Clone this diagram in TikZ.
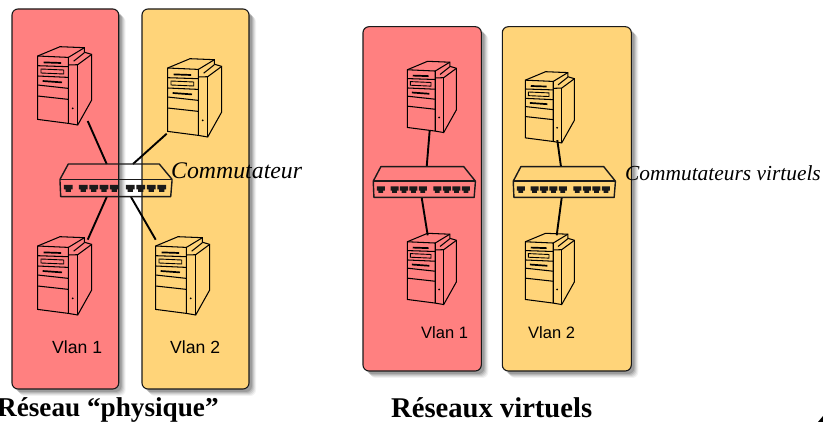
\documentclass[tikz,border=0pt]{standalone}
\usepackage{fontspec}
\setmainfont{Liberation Serif}
\setsansfont{Liberation Sans}
\usetikzlibrary{calc}
\definecolor{vred}{HTML}{FF8080}
\definecolor{vyel}{HTML}{FFD479}
\definecolor{ink}{HTML}{1A1A1A}
\tikzset{
  panelbox/.style={draw=ink,line width=1.1pt,rounded corners=6pt},
  holder/.style={rectangle,inner sep=0pt,outer sep=0pt},
  link/.style={draw=black,line width=1.9pt},
  srvline/.style={draw=black,line width=1.05pt,line join=miter},
  swline/.style={draw=ink,line width=1.4pt,line join=round},
  captxt/.style={inner sep=0pt,anchor=west},
  vlan/.style={inner sep=0pt,anchor=west},
  ttl/.style={inner sep=0pt,anchor=west},
}
\newcommand{\capfont}[1]{\fontsize{#1}{#1}\selectfont\itshape}
\newcommand{\vlanfont}[1]{\fontsize{#1}{#1}\selectfont\sffamily}
\newcommand{\ttlfont}[1]{\fontsize{#1}{#1}\selectfont\bfseries}
% panel with soft shadow: x1,y1,x2,y2,colour
\newcommand{\vpanel}[5]{%
  \foreach \d/\o in {7/0.05,6/0.07,5/0.09,4/0.11,3/0.14}{%
    \fill[black,opacity=\o,rounded corners=6pt] (#1+\d,#2+\d) rectangle (#3+\d,#4+\d);}
  \path[panelbox,fill=#5] (#1,#2) rectangle (#3,#4);}
% server drawn in a 54 x 78 box from its NW corner; args: node name, scale
\newcommand{\srv}[2]{%
 \begin{scope}[shift={(#1.north west)},x=#2pt,y=-#2pt]
  \draw[srvline] (0,9.3) -- (22.3,0) -- (46.7,1) -- (46.7,5.5) -- (54,7.7) -- (54,53.3) -- (40,78.3) -- (30.7,76.7) -- (0,72.7) -- cycle;
  \draw[srvline] (0,9.3) -- (30.7,10.7) -- (30.7,76.7);
  \draw[srvline] (30.7,10.7) -- (46.7,1);
  \draw[srvline] (30.7,18.3) -- (40,18) -- (54,7.7);
  \draw[srvline] (40,18) -- (40,78.3);
  \draw[srvline] (36,14.5) -- (46.7,6);
  \draw[srvline] (0,19) -- (30.7,20);
  \draw[srvline] (0,29.3) -- (30.7,30.7);
  \draw[srvline] (0,38.3) -- (30.7,41.7);
  \draw[srvline] (0,49.3) -- (30.7,52.7);
  \draw[line width=1.7pt] (6,15.7) -- (23.5,16.3);
  \draw[line width=1.7pt] (5,34.3) -- (24.3,35.7);
  \draw[black,line width=0.9pt] (3.3,22.3) -- (26,23.3) -- (26,27.3) -- (3.3,26.3) -- cycle;
  \fill (35,61.7) circle (1pt);
 \end{scope}}
% switch in a 112 x 33 box; args: node name, x-scale, y-scale
\newcommand{\swt}[3]{%
 \begin{scope}[shift={(#1.north west)},x=#2pt,y=-#3pt]
  \draw[swline] (8.3,0) -- (99.3,0) -- (112,15.3) -- (112,17) -- (110.7,32.7) -- (0.7,32.7) -- (0,17) -- (0,15.3) -- cycle;
  \draw[swline] (0,15.3) -- (112,15.3);
  \foreach \x in {8.3,23.3,33.7,44,54.3,70.3,80.7,91.3,101.7}{%
    \fill[ink] (\x-4.4,21) -- (\x+4.4,21) -- (\x+4.4,25.5) -- (\x+2.6,25.5) -- (\x+2.6,27.8) -- (\x-2.6,27.8) -- (\x-2.6,25.5) -- (\x-4.4,25.5) -- cycle;}
 \end{scope}}
\begin{document}
\begin{tikzpicture}[x=1pt,y=-1pt]
\useasboundingbox (0,0) rectangle (823,422);
\vpanel{12}{9}{118.7}{389}{vred}
\vpanel{142}{9}{249}{389}{vyel}
\vpanel{363}{26.7}{481.3}{371}{vred}
\vpanel{502.3}{26.7}{631.3}{371}{vyel}
% holders (anchor north west)
\node[holder,anchor=north west,minimum width=54pt,minimum height=78pt] (sA) at (37.7,46.7) {};
\node[holder,anchor=north west,minimum width=54pt,minimum height=78pt] (sB) at (167.7,58.7) {};
\node[holder,anchor=north west,minimum width=54pt,minimum height=78pt] (sC) at (37.7,236.7) {};
\node[holder,anchor=north west,minimum width=54pt,minimum height=78pt] (sD) at (155.7,236.7) {};
\node[holder,anchor=north west,minimum width=112pt,minimum height=33pt] (swP) at (60,164) {};
\node[holder,anchor=north west,minimum width=49pt,minimum height=71pt] (sE) at (407.3,61.3) {};
\node[holder,anchor=north west,minimum width=49pt,minimum height=71pt] (sF) at (525.3,71.7) {};
\node[holder,anchor=north west,minimum width=49pt,minimum height=71pt] (sG) at (407.3,233.3) {};
\node[holder,anchor=north west,minimum width=49pt,minimum height=71pt] (sH) at (525.3,233.3) {};
\node[holder,anchor=north west,minimum width=102pt,minimum height=31pt] (swR) at (373.3,166.7) {};
\node[holder,anchor=north west,minimum width=102pt,minimum height=31pt] (swY) at (513.3,166.7) {};
% connectors
\draw[link] ([xshift=50pt,yshift=3.7pt]sA.south west) -- ([xshift=46.7pt]swP.north west);
\draw[link] ([xshift=-1pt,yshift=3pt]sB.south west) -- ([xshift=73pt]swP.north west);
\draw[link] ([xshift=50pt,yshift=-3pt]sC.north west) -- ([xshift=46.7pt]swP.south west);
\draw[link] ([xshift=0pt,yshift=-3pt]sD.north west) -- ([xshift=71pt]swP.south west);
\draw[link] ([xshift=22.4pt,yshift=2pt]sE.south west) -- ([xshift=53.4pt]swR.north west);
\draw[link] ([xshift=32pt,yshift=2.6pt]sF.south west) -- ([xshift=47.7pt]swY.north west);
\draw[link] ([xshift=48.4pt]swR.south west) -- ([xshift=20.4pt,yshift=-2pt]sG.north west);
\draw[link] ([xshift=48.4pt]swY.south west) -- ([xshift=31.4pt,yshift=-2pt]sH.north west);
% equipment
\srv{sA}{1}\srv{sB}{1}\srv{sC}{1}\srv{sD}{1}
\srv{sE}{0.91}\srv{sF}{0.91}\srv{sG}{0.91}\srv{sH}{0.91}
\swt{swP}{1}{1}\swt{swR}{0.911}{0.94}\swt{swY}{0.911}{0.94}
% texts
\node[captxt] (tA) at (171,171) {\capfont{23.8}Commutateur};
\node[captxt] (tB) at (625,173) {\capfont{21.4}Commutateurs virtuels};
\node[vlan] (tC) at (52,347) {\vlanfont{17.6}Vlan 1};
\node[vlan] (tD) at (170,347) {\vlanfont{17.6}Vlan 2};
\node[vlan] (tE) at (421,333) {\vlanfont{16.5}Vlan 1};
\node[vlan] (tF) at (528,333) {\vlanfont{16.5}Vlan 2};
\node[ttl] (tG) at (-3,410) {\ttlfont{27.2}Réseau “physique”};
\node[ttl] (tH) at (391,408) {\ttlfont{28.6}Réseaux virtuels};
\fill[black] (823,416) -- (823,422) -- (818,422) -- cycle;
\end{tikzpicture}
\end{document}
